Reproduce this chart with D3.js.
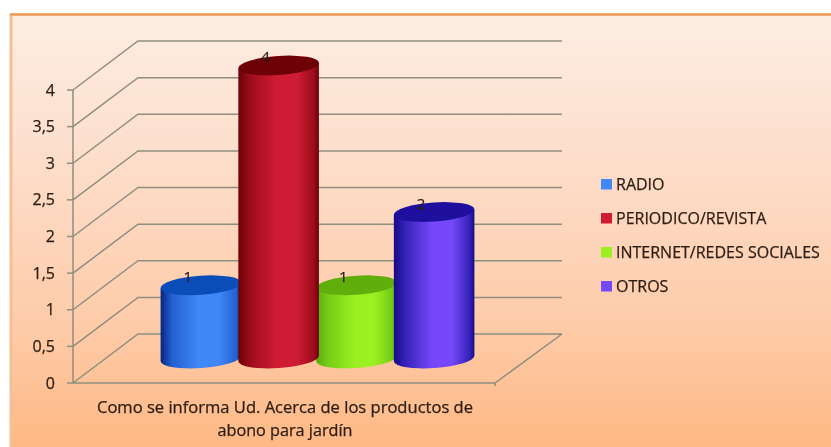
<!DOCTYPE html>
<html><head><meta charset="utf-8">
<script src="https://cdnjs.cloudflare.com/ajax/libs/d3/7.8.5/d3.min.js"></script>
<style>html,body{margin:0;padding:0;background:#fff;overflow:hidden}svg{display:block;filter:blur(0.6px)}text{font-family:"Open Sans",Lato,sans-serif;fill:#2c1d14;stroke:#2c1d14;stroke-width:0.25px}</style>
</head><body><div id="c"></div>
<script>
const categories = ["RADIO","PERIODICO/REVISTA","INTERNET/REDES SOCIALES","OTROS"];
const values = [1,4,1,2];
const tickValues = [0,0.5,1,1.5,2,2.5,3,3.5,4];
const tickLabels = ["0","0,5","1","1,5","2","2,5","3","3,5","4"];
const axisLines = ["Como se informa Ud. Acerca de los productos de","abono para jardín"];
const palette = [
 {top:"#0a4cb8",dark:"#06257f",mid:"#3f88f8",edge:"#2460d0"},
 {top:"#6e0008",dark:"#6a0006",mid:"#cf1c34",edge:"#9c0c1a"},
 {top:"#5fae0c",dark:"#5aa80c",mid:"#9bf022",edge:"#74cc16"},
 {top:"#1f0f9e",dark:"#170a86",mid:"#7548fb",edge:"#3522b8"}
];
const drawOrder = [0,2,1,3];

const W=831,H=447;
const svg=d3.select("#c").append("svg").attr("width",W).attr("height",H);
const defs=svg.append("defs");
const bg=defs.append("linearGradient").attr("id","bg").attr("x1",0).attr("y1",0).attr("x2",0).attr("y2",1);
[[0,"#fdeee3"],[0.3,"#fddfcd"],[0.7,"#fecba8"],[1,"#feb680"]].forEach(s=>bg.append("stop").attr("offset",s[0]).attr("stop-color",s[1]));
palette.forEach((p,i)=>{
  const g=defs.append("linearGradient").attr("id","cyl"+i).attr("x1",0).attr("x2",1).attr("y1",0).attr("y2",0);
  [[0,p.dark],[0.14,p.edge],[0.48,p.mid],[0.72,p.mid],[0.94,p.edge],[1,p.dark]].forEach(s=>g.append("stop").attr("offset",s[0]).attr("stop-color",s[1]));
});

svg.append("rect").attr("x",11).attr("y",14.5).attr("width",W).attr("height",H)
  .attr("fill","url(#bg)").attr("stroke","#f5bf95").attr("stroke-width",3);
svg.append("line").attr("x1",10).attr("x2",W).attr("y1",14.5).attr("y2",14.5).attr("stroke","#ec9a58").attr("stroke-width",1.8);

const yFront=d3.scaleLinear().domain([0,4]).range([383,90]);
const yBack=d3.scaleLinear().domain([0,4]).range([334,41]);
const yBar=d3.scaleLinear().domain([0,4]).range([358.5,65.5]);
const x=d3.scaleBand().domain(categories).range([162,473]);
const xFront=73,xBack=138,xBackEnd=562,xFrontEnd=495;
const grid="#8f8e80";

const gg=svg.append("g").attr("fill","none").attr("stroke",grid).attr("stroke-width",1.5);
tickValues.forEach(v=>{
  gg.append("path").attr("d",`M${xFront},${yFront(v)}L${xBack},${yBack(v)}H${xBackEnd}`);
  gg.append("line").attr("x1",67).attr("x2",xFront).attr("y1",yFront(v)).attr("y2",yFront(v));
});
gg.append("line").attr("x1",xFront).attr("x2",xFront).attr("y1",yFront(4)).attr("y2",yFront(0));
gg.append("path").attr("d",`M${xFront},${yFront(0)}H${xFrontEnd}L${xBackEnd},${yBack(0)}`);
gg.append("line").attr("x1",xFrontEnd).attr("x2",xFrontEnd).attr("y1",yFront(0)).attr("y2",yFront(0)+3);

const rot=-4*Math.PI/180, ry=9.5;
function bar(i){
  const c=categories[i], rx=x.bandwidth()/2+1.5, cx=x(c)+x.bandwidth()/2;
  const ty=yBar(values[i]), by=yBar(0);
  const dx=rx*Math.cos(rot), dy=rx*Math.sin(rot);
  const g=svg.append("g");
  const deg=rot*180/Math.PI;
  g.append("path").attr("fill",`url(#cyl${i})`)
    .attr("d",`M${cx-dx},${ty-dy}L${cx+dx},${ty+dy}L${cx+dx},${by+dy}A${rx},${ry} ${deg} 0 1 ${cx-dx},${by-dy}Z`);
  g.append("ellipse").attr("cx",cx).attr("cy",ty).attr("rx",rx).attr("ry",ry)
    .attr("transform",`rotate(${deg} ${cx} ${ty})`).attr("fill",palette[i].top);
}
drawOrder.forEach(bar);

categories.forEach((c,i)=>{
  svg.append("text").attr("x",x(c)+x.bandwidth()/2-13).attr("y",yBar(values[i])-3.5)
    .attr("text-anchor","middle").attr("font-size",15).text(values[i]);
});

tickValues.forEach((v,i)=>{
  svg.append("text").attr("x",55).attr("y",yFront(v)+5.5).attr("text-anchor","end")
    .attr("font-size",16).text(tickLabels[i]);
});
const axisLengths=[376,135];
axisLines.forEach((t,i)=>{
  svg.append("text").attr("x",285).attr("y",413+i*23).attr("text-anchor","middle")
    .attr("font-size",15.5).attr("textLength",axisLengths[i]).attr("lengthAdjust","spacingAndGlyphs").text(t);
});

const legendY=d3.scalePoint().domain(categories).range([184,286]);
categories.forEach((c,i)=>{
  svg.append("rect").attr("x",601).attr("y",legendY(c)-5).attr("width",11).attr("height",10.5).attr("fill",palette[i].mid);
  svg.append("text").attr("x",616).attr("y",legendY(c)+5.5).attr("font-size",16).text(c);
});
</script></body></html>
